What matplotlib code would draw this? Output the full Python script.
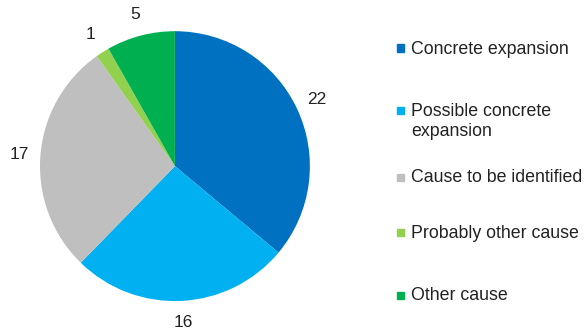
import matplotlib.pyplot as plt
from matplotlib.patches import Rectangle

plt.rcParams['font.family'] = ['Liberation Sans', 'DejaVu Sans']

# causes and number of structures per cause
causes = ['Concrete expansion', 'Possible concrete\nexpansion', 'Cause to be identified',
          'Probably other cause', 'Other cause']
counts = [22, 16, 17, 1, 5]
colors = ['#0070C0', '#00B0F0', '#BFBFBF', '#92D050', '#00B050']

fig = plt.figure(figsize=(5.88, 3.28), dpi=100)
ax = fig.add_axes([0.068, 0.082, 0.459, 0.823])

ax.pie(counts, colors=colors, startangle=90, counterclock=False,
       labels=[str(c) for c in counts], labeldistance=1.16,
       textprops={'fontsize': 12.5, 'color': '#222222', 'ha': 'center', 'va': 'center'},
       wedgeprops={'linewidth': 0})
ax.set_aspect('equal')
ax.set_xlim(-1, 1)
ax.set_ylim(-1, 1)
ax.axis('off')

# legend drawn by hand so the square sits next to the first line of each entry
row_y = [48, 111, 177, 232, 295]
for name, col, y in zip(causes, colors, row_y):
    yf = 1 - y / 328
    fig.patches.append(Rectangle((397 / 588, yf - 3.5 / 328), 7 / 588, 7 / 328,
                                 transform=fig.transFigure, color=col))
    fig.text(411 / 588, yf + 7.5 / 328, name, fontsize=12.8, color='#222222',
             ha='left', va='top', linespacing=1.18)

fig.savefig('out.png', dpi=100)
